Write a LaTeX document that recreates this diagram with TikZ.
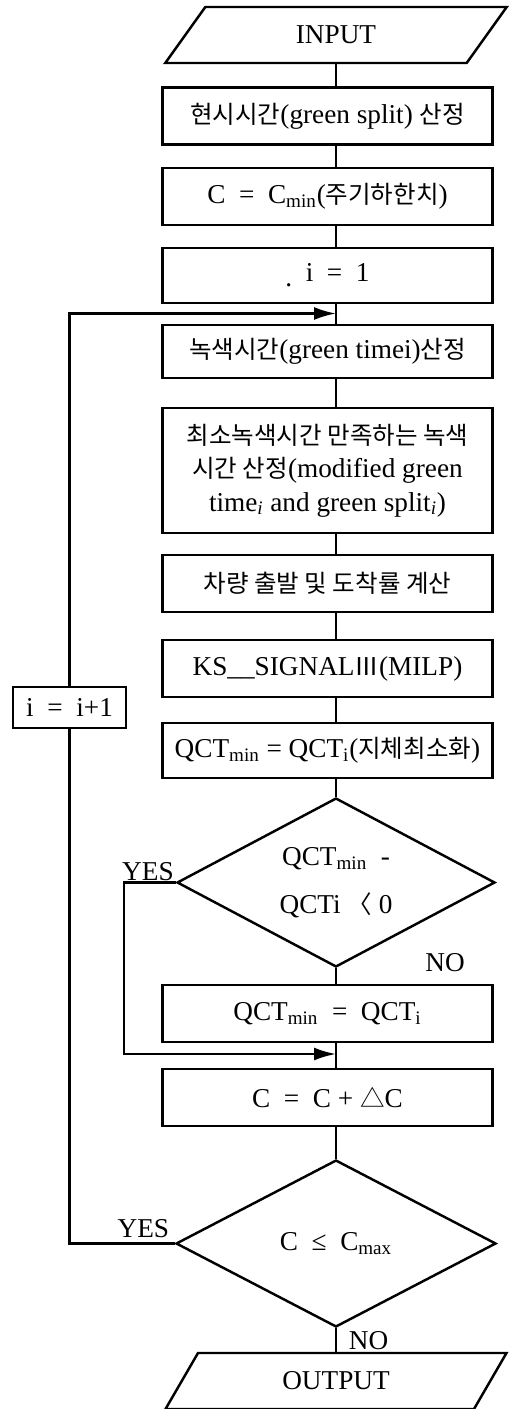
\documentclass[tikz,border=0pt]{standalone}
\usepackage{fontspec}
\setmainfont{Liberation Serif}
\newfontfamily\kr[Scale=0.9]{Noto Sans CJK KR}
\newcommand{\hg}[1]{{\kr #1}}
\usetikzlibrary{shapes.geometric,arrows.meta,positioning}

\begin{document}
\begin{tikzpicture}[
		fbox/.style={draw, line width=1.4pt, minimum width=6.6cm, minimum height=1.14cm,
			align=center, inner sep=2pt, font=\fontsize{15.5}{19}\selectfont},
		iobox/.style={draw, line width=1.4pt, trapezium, trapezium left angle=62,
			trapezium right angle=118, trapezium stretches=true, minimum width=6.84cm,
			minimum height=1.12cm, inner sep=2pt, font=\fontsize{15.5}{19}\selectfont},
		dbox/.style={draw, diamond, aspect=1.9, line width=1.4pt, inner sep=0pt, align=center,
			font=\fontsize{15.5}{19}\selectfont},
		link/.style={line width=1.4pt},
		arrow/.style={-{Latex[length=4.4mm,width=2.6mm]}, line width=1.4pt},
		tlab/.style={font=\fontsize{15.5}{18}\selectfont, inner sep=1pt}
	]
		\useasboundingbox (0,0) rectangle (10.24,-28.18);
		\node[iobox] (in) at (6.72,-0.70) {INPUT};
		\node[fbox] (b1) at (6.55,-2.32) {\hg{현시시간}(green split) \hg{산정}};
		\node[fbox] (b2) at (6.55,-3.93) {C\ \ =\ \ C\textsubscript{min}(\hg{주기하한치})};
		\node[fbox, minimum height=1.1cm] (b3) at (6.55,-5.51) {\raisebox{-3pt}{.}\ \ i\ \ =\ \ 1};
		\node[fbox, minimum height=1.06cm] (b4) at (6.55,-7.03) {\hg{녹색시간}(green timei)\hg{산정}};
		\node[fbox, minimum height=2.5cm] (b5) at (6.55,-9.41) {\hg{최소녹색시간 만족하는 녹색}\\\hg{시간 산정}(modified green\\time\textsubscript{\textit{i}} and green split\textsubscript{\textit{i}})};
		\node[fbox] (b6) at (6.55,-11.67) {\hg{차량 출발 및 도착률 계산}};
		\node[fbox] (b7) at (6.55,-13.37) {KS\_\_SIGNAL\hg{Ⅲ}(MILP)};
		\node[fbox, minimum height=1.1cm] (b8) at (6.55,-15.01) {QCT\textsubscript{min} = QCT\textsubscript{i}(\hg{지체최소화})};
		\node[dbox, minimum width=6.36cm, minimum height=3.38cm] (d1) at (6.72,-17.65) {QCT\textsubscript{min}\ \ -\\[8pt]QCTi \hg{〈} 0};
		\node[fbox] (b9) at (6.55,-20.27) {QCT\textsubscript{min}\ \ =\ \ QCT\textsubscript{i}};
		\node[fbox] (b10) at (6.55,-21.95) {C\ \ =\ \ C\ +\ \hg{△}C};
		\node[dbox, minimum width=6.4cm, minimum height=3.34cm] (d2) at (6.72,-24.87) {C\ \ ≤\ \ C\textsubscript{max}};
		\node[iobox] (out) at (6.72,-27.62) {OUTPUT};
		\node[fbox, minimum width=2.26cm, minimum height=0.82cm] (inc) at (1.39,-14.15) {i\ \ =\ \ i+1};
		\coordinate (j1) at (6.72,-6.27);
		\coordinate (j2) at (6.72,-21.08);
		\foreach \a/\b in {in/b1,b1/b2,b2/b3,b3/b4,b4/b5,b5/b6,b6/b7,b7/b8,b8/d1,d1/b9,b9/b10,b10/d2,d2/out}
			\draw[link] (\a.south -| in.south) -- (\b.north -| in.south);
		\draw[link] (d2.west) -| (inc.south);
		\draw[arrow] (inc.north) |- (j1);
		\draw[arrow] (d1.west) -- ++(-1.04,0) |- (j2);
		\node[tlab, anchor=south east] (yes1) at (d1.west) {YES};
		\node[tlab] (no1) at (8.9,-19.26) {NO};
		\node[tlab, anchor=south east] (yes2) at ([xshift=-2pt,yshift=2pt]d2.west) {YES};
		\node[tlab] (no2) at (7.37,-26.82) {NO};
	\end{tikzpicture}
\end{document}
